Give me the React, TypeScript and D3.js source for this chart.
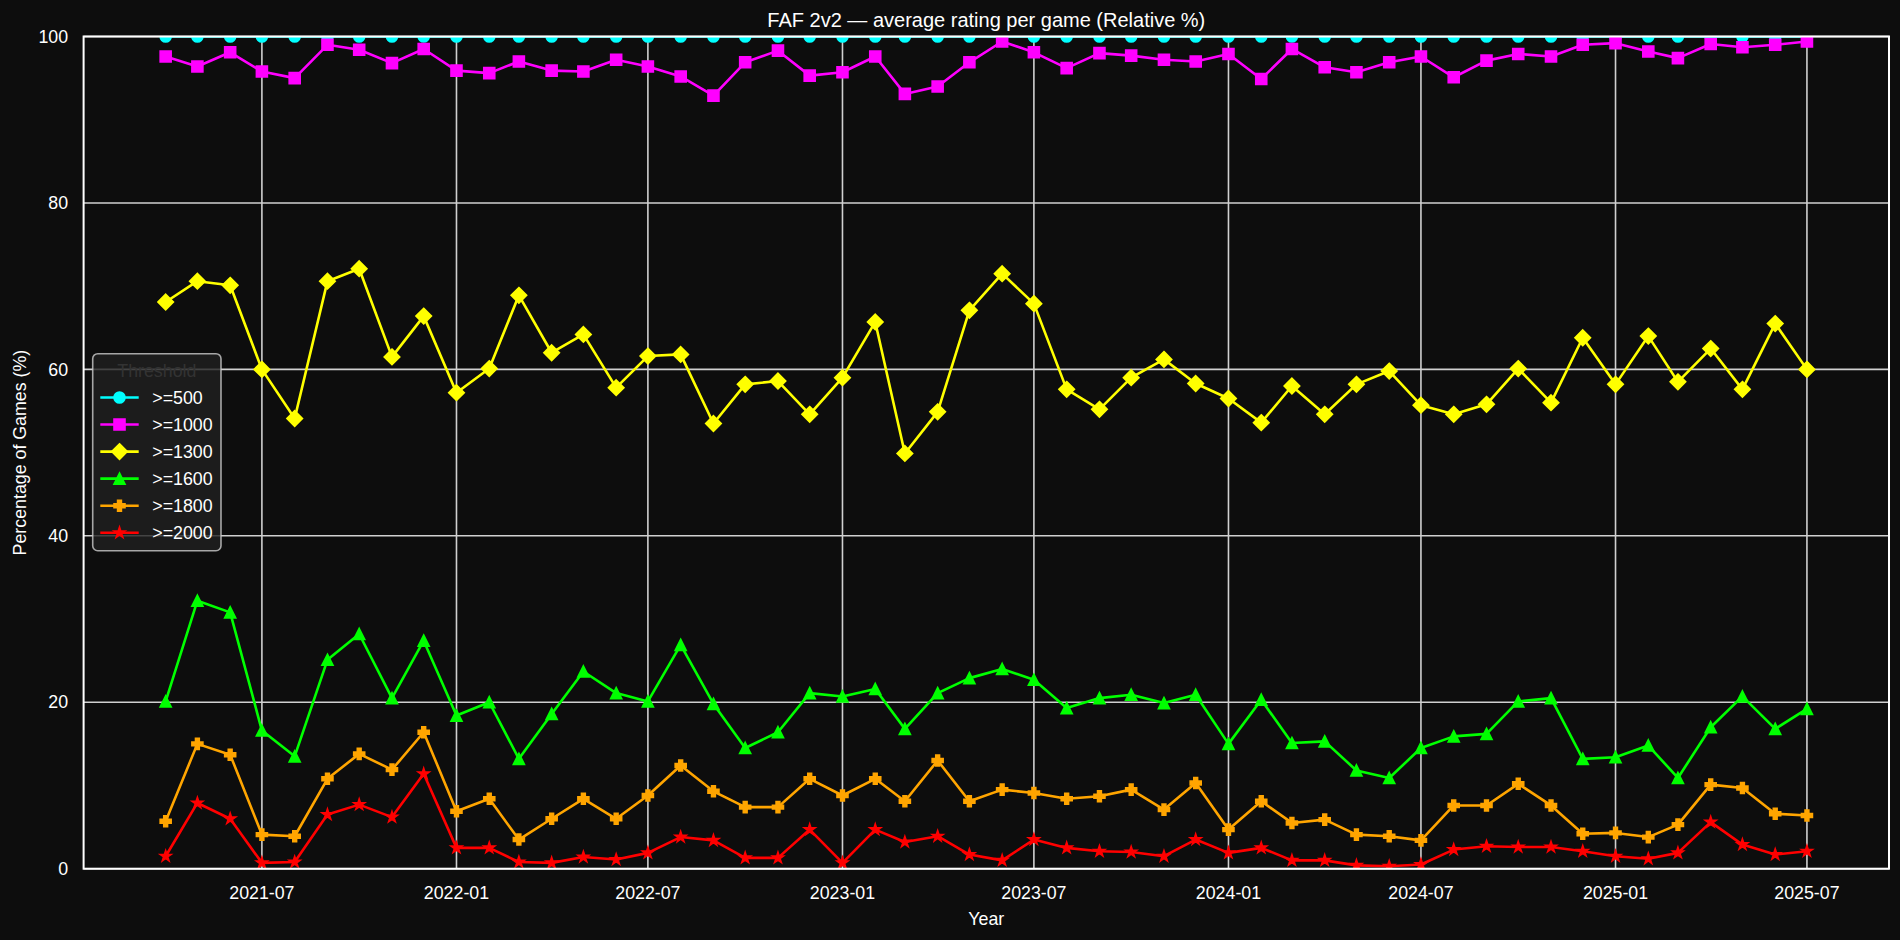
import React from "react";
import * as d3 from "d3";

const months: string[] = [
  "2021-04","2021-05","2021-06","2021-07","2021-08","2021-09","2021-10","2021-11","2021-12",
  "2022-01","2022-02","2022-03","2022-04","2022-05","2022-06","2022-07","2022-08","2022-09","2022-10","2022-11","2022-12",
  "2023-01","2023-02","2023-03","2023-04","2023-05","2023-06","2023-07","2023-08","2023-09","2023-10","2023-11","2023-12",
  "2024-01","2024-02","2024-03","2024-04","2024-05","2024-06","2024-07","2024-08","2024-09","2024-10","2024-11","2024-12",
  "2025-01","2025-02","2025-03","2025-04","2025-05","2025-06","2025-07"
];

const s500: number[] = months.map(() => 100);
const s1000: number[] = [97.6,96.4,98.1,95.8,95.0,99.0,98.4,96.8,98.5,95.9,95.6,97.0,95.9,95.8,97.2,96.4,95.2,92.9,96.9,98.3,95.3,95.7,97.6,93.1,94.0,96.9,99.4,98.1,96.2,98.0,97.7,97.2,97.0,97.9,94.9,98.5,96.3,95.7,96.9,97.6,95.1,97.1,97.9,97.6,99.0,99.2,98.2,97.4,99.1,98.7,99.0,99.4];
const s1300: number[] = [68.1,70.6,70.1,60.0,54.1,70.6,72.1,61.5,66.4,57.2,60.1,68.9,62.0,64.2,57.8,61.6,61.8,53.5,58.2,58.6,54.6,59.0,65.7,49.9,54.9,67.1,71.5,67.9,57.6,55.2,59.0,61.2,58.3,56.5,53.6,58.0,54.6,58.2,59.8,55.7,54.6,55.8,60.1,56.0,63.8,58.2,64.0,58.5,62.5,57.6,65.5,60.0];
const s1600: number[] = [20.1,32.2,30.8,16.6,13.5,25.1,28.2,20.5,27.4,18.4,20.0,13.2,18.6,23.7,21.1,20.1,26.9,19.8,14.5,16.4,21.1,20.7,21.6,16.8,21.1,22.9,24.0,22.7,19.3,20.5,20.9,19.9,20.9,15.0,20.3,15.1,15.3,11.8,10.9,14.5,15.9,16.2,20.1,20.5,13.2,13.4,14.8,10.9,17.0,20.7,16.8,19.2];
const s1800: number[] = [5.7,15.0,13.7,4.1,3.9,10.8,13.8,11.9,16.4,6.9,8.4,3.5,6.0,8.4,6.0,8.8,12.4,9.3,7.4,7.4,10.8,8.8,10.8,8.1,13.0,8.1,9.5,9.1,8.4,8.7,9.5,7.1,10.3,4.7,8.1,5.5,5.9,4.1,3.9,3.4,7.6,7.6,10.2,7.6,4.2,4.3,3.8,5.3,10.1,9.7,6.6,6.4];
const s2000: number[] = [1.5,7.9,6.0,0.7,0.8,6.5,7.7,6.2,11.4,2.5,2.5,0.8,0.7,1.4,1.1,1.9,3.8,3.4,1.3,1.3,4.7,0.7,4.7,3.2,3.9,1.7,1.0,3.5,2.5,2.1,2.0,1.5,3.5,1.9,2.5,1.0,1.0,0.4,0.3,0.5,2.3,2.7,2.6,2.6,2.1,1.5,1.2,1.9,5.6,2.9,1.7,2.1];

const seriesNames: string[] = [">=500", ">=1000", ">=1300", ">=1600", ">=1800", ">=2000"];
const seriesValues: number[][] = [s500, s1000, s1300, s1600, s1800, s2000];
const seriesColors: string[] = ["#00ffff", "#ff00ff", "#ffff00", "#00ff00", "#ffa500", "#ff0000"];
const seriesMarkers: string[] = ["circle", "square", "diamond", "triangle", "plus", "star"];

const xTickLabels: string[] = ["2021-07","2022-01","2022-07","2023-01","2023-07","2024-01","2024-07","2025-01","2025-07"];
const yTicks: number[] = [0, 20, 40, 60, 80, 100];

const W = 1900, H = 940;
const L = 83.6, R = 1889, T = 36.5, B = 868.7;
const BG = "#0d0d0d";
const FONT = "'Liberation Sans', Arial, sans-serif";
const MS = 10.8;
const MEW = 1.8;

const parse = d3.utcParse("%Y-%m");

function markerPath(kind: string, s: number): string {
  const h = s / 2;
  if (kind === "circle") {
    return d3.symbol(d3.symbolCircle, Math.PI * h * h)() as string;
  }
  if (kind === "square") return `M${-h},${-h}H${h}V${h}H${-h}Z`;
  if (kind === "diamond") {
    const d = h * Math.SQRT2;
    return `M0,${-d}L${d},0L0,${d}L${-d},0Z`;
  }
  if (kind === "triangle") return `M0,${-h}L${h},${h}L${-h},${h}Z`;
  if (kind === "plus") {
    const a = s / 6, b = s / 2;
    const pts = [[-a,-b],[a,-b],[a,-a],[b,-a],[b,a],[a,a],[a,b],[-a,b],[-a,a],[-b,a],[-b,-a],[-a,-a]];
    return "M" + pts.map(p => p.join(",")).join("L") + "Z";
  }
  // star
  const pts: string[] = [];
  const inner = h * 0.381966;
  for (let i = 0; i < 10; i++) {
    const r = i % 2 === 0 ? h : inner;
    const ang = (Math.PI / 5) * i - Math.PI / 2;
    pts.push(`${r * Math.cos(ang)},${r * Math.sin(ang)}`);
  }
  return "M" + pts.join("L") + "Z";
}

export default function App() {
  const dates = months.map(m => parse(m) as Date);
  const t0 = dates[0].getTime(), t1 = dates[dates.length - 1].getTime();
  const pad = (t1 - t0) * 0.05;
  const x = d3.scaleUtc().domain([new Date(t0 - pad), new Date(t1 + pad)]).range([L, R]);
  const y = d3.scaleLinear().domain([0, 100]).range([B, T]);
  const line = d3.line<number>().x((_, i) => x(dates[i])).y(v => y(v));
  const xTicks = xTickLabels.map(s => parse(s) as Date);

  const legX = 92.7, legY = 353.7, legW = 128.3, legH = 197;
  const entryY = (i: number) => 397.5 + i * 27.05;

  return (
    <svg width={W} height={H} style={{ position: "absolute", left: 0, top: 0, background: BG }} fontFamily={FONT}>
      <rect x={0} y={0} width={W} height={H} fill={BG} />
      <defs>
        <clipPath id="plotclip">
          <rect x={L} y={T} width={R - L} height={B - T} />
        </clipPath>
      </defs>
      {/* grid */}
      <g stroke="#d0d0d0" strokeWidth={1.6}>
        {xTicks.map((d, i) => (
          <line key={"gx" + i} x1={x(d)} x2={x(d)} y1={T} y2={B} />
        ))}
        {yTicks.map((v, i) => (
          <line key={"gy" + i} x1={L} x2={R} y1={y(v)} y2={y(v)} />
        ))}
      </g>
      {/* series */}
      <g clipPath="url(#plotclip)">
        {seriesValues.map((vals, si) => (
          <g key={"s" + si}>
            <path d={line(vals) as string} fill="none" stroke={seriesColors[si]} strokeWidth={2.6} strokeLinejoin="round" />
            {vals.map((v, i) => (
              <path key={i} d={markerPath(seriesMarkers[si], MS)} transform={`translate(${x(dates[i])},${y(v)})`}
                fill={seriesColors[si]} stroke={seriesColors[si]} strokeWidth={MEW} strokeLinejoin="miter" />
            ))}
          </g>
        ))}
      </g>
      {/* spines */}
      <rect x={L} y={T} width={R - L} height={B - T} fill="none" stroke="#ffffff" strokeWidth={2} />
      {/* y tick labels */}
      {yTicks.map((v, i) => (
        <text key={"yt" + i} x={L - 15.5} y={y(v)} dy="0.35em" textAnchor="end" fill="#ffffff" fontSize={17.8}>{v}</text>
      ))}
      {/* x tick labels */}
      {xTicks.map((d, i) => (
        <text key={"xt" + i} x={x(d)} y={899} textAnchor="middle" fill="#ffffff" fontSize={17.8}>{xTickLabels[i]}</text>
      ))}
      {/* axis labels */}
      <text x={(L + R) / 2} y={925} textAnchor="middle" fill="#ffffff" fontSize={17.8}>Year</text>
      <text transform={`translate(26,${(T + B) / 2}) rotate(-90)`} textAnchor="middle" fill="#ffffff" fontSize={17.8}>Percentage of Games (%)</text>
      {/* title */}
      <text x={(L + R) / 2} y={27} textAnchor="middle" fill="#ffffff" fontSize={20}>FAF 2v2 — average rating per game (Relative %)</text>
      {/* legend */}
      <g>
        <rect x={legX} y={legY} width={legW} height={legH} rx={5} ry={5} fill="#202020" fillOpacity={0.8} stroke="#cccccc" strokeOpacity={0.8} strokeWidth={1.6} />
        <text x={legX + legW / 2} y={370.7} dy="0.35em" textAnchor="middle" fill="#333333" fontSize={17.8}>Threshold</text>
        {seriesNames.map((n, i) => (
          <g key={"lg" + i}>
            <line x1={100.3} x2={138.7} y1={entryY(i)} y2={entryY(i)} stroke={seriesColors[i]} strokeWidth={2.6} />
            <path d={markerPath(seriesMarkers[i], MS)} transform={`translate(119.5,${entryY(i)})`} fill={seriesColors[i]} stroke={seriesColors[i]} strokeWidth={MEW} />
            <text x={152.3} y={entryY(i)} dy="0.35em" fill="#ffffff" fontSize={17.8}>{n}</text>
          </g>
        ))}
      </g>
    </svg>
  );
}
